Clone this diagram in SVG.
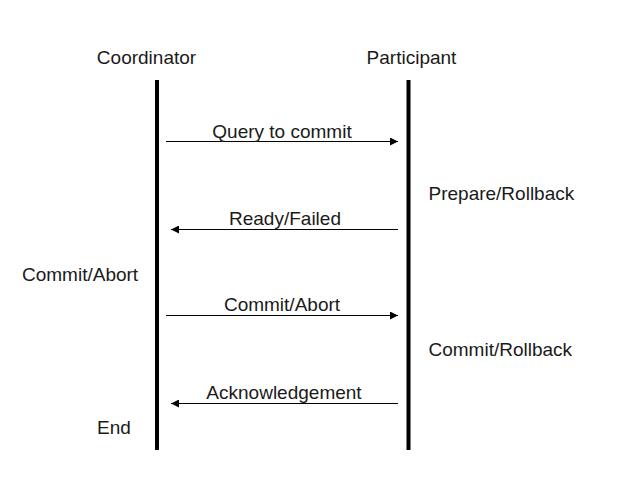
<svg xmlns="http://www.w3.org/2000/svg" width="635" height="499" viewBox="0 0 635 499">
<defs>
<style>
text{font-family:"Liberation Sans",Arial,sans-serif;font-size:19px;fill:#1a1a1a}
.life{stroke:#000;stroke-width:4}
.msg{stroke:#000;stroke-width:1}
</style>
<marker id="ah" viewBox="0 0 10 10" refX="10" refY="5" markerWidth="12" markerHeight="8" markerUnits="userSpaceOnUse" orient="auto"><path d="M0,0L10,5L0,10z" fill="#000"/></marker>
</defs>
<rect width="635" height="499" fill="#fff"/>
<g id="coordinator">
<text x="146.5" y="64" text-anchor="middle">Coordinator</text>
<line class="life" x1="157" y1="80" x2="157" y2="450"/>
</g>
<g id="participant">
<text x="411.5" y="64" text-anchor="middle">Participant</text>
<line class="life" x1="408.5" y1="80" x2="408.5" y2="450"/>
</g>
<g id="state-labels">
<text x="428.5" y="200">Prepare/Rollback</text>
<text x="22" y="281">Commit/Abort</text>
<text x="428.5" y="356">Commit/Rollback</text>
<text x="97" y="434">End</text>
</g>
<g id="connectors">
<line class="msg" x1="166" y1="141.5" x2="398" y2="141.5" marker-end="url(#ah)"/>
<text x="282" y="138" text-anchor="middle">Query to commit</text>
<line class="msg" x1="398" y1="229.5" x2="171" y2="229.5" marker-end="url(#ah)"/>
<text x="285" y="225" text-anchor="middle">Ready/Failed</text>
<line class="msg" x1="166" y1="315.5" x2="398" y2="315.5" marker-end="url(#ah)"/>
<text x="282" y="311" text-anchor="middle">Commit/Abort</text>
<line class="msg" x1="398" y1="403.5" x2="171" y2="403.5" marker-end="url(#ah)"/>
<text x="284" y="399" text-anchor="middle">Acknowledgement</text>
</g>
</svg>
